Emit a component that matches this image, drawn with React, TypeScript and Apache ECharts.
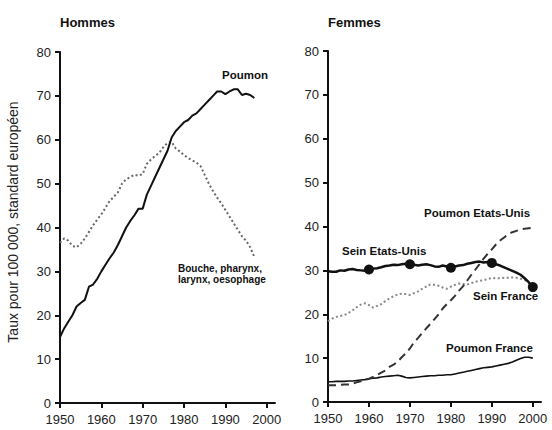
import { useEffect, useRef } from "react";
import * as echarts from "echarts";

const menYears = [
  1950, 1951, 1952, 1953, 1954, 1955, 1956, 1957, 1958, 1959,
  1960, 1961, 1962, 1963, 1964, 1965, 1966, 1967, 1968, 1969,
  1970, 1971, 1972, 1973, 1974, 1975, 1976, 1977, 1978, 1979,
  1980, 1981, 1982, 1983, 1984, 1985, 1986, 1987, 1988, 1989,
  1990, 1991, 1992, 1993, 1994, 1995, 1996, 1997,
];
const menLung = [
  15, 17, 18.5, 20, 22, 22.8, 23.5, 26.5, 27, 28.3,
  30, 31.5, 33, 34.3, 36, 38, 40, 41.5, 42.8, 44.3,
  44.3, 47.5, 49.5, 51.5, 53.5, 55.5, 57.5, 60.5, 62, 63,
  64, 64.5, 65.5, 66, 67, 68, 69, 70, 71, 71,
  70.4, 71, 71.5, 71.5, 70.2, 70.5, 70.2, 69.5,
];
const menMouth = [
  36.5, 37.5, 37, 35.8, 35.5, 36.3, 37.5, 39, 40.5, 41.8,
  43, 44.5, 46, 47, 48, 50, 51, 51.5, 52, 51.8,
  52.2, 54.5, 55.5, 56.3, 57, 58.3, 59.3, 59.5, 58, 57.3,
  56.5, 55.8, 55.3, 54.8, 54, 52, 50, 48.3, 46.8, 45.5,
  44, 42.5, 41, 39.5, 38, 37, 35.5, 33.3,
];

const womenYears = [
  1950, 1951, 1952, 1953, 1954, 1955, 1956, 1957, 1958, 1959,
  1960, 1961, 1962, 1963, 1964, 1965, 1966, 1967, 1968, 1969,
  1970, 1971, 1972, 1973, 1974, 1975, 1976, 1977, 1978, 1979,
  1980, 1981, 1982, 1983, 1984, 1985, 1986, 1987, 1988, 1989,
  1990, 1991, 1992, 1993, 1994, 1995, 1996, 1997, 1998, 1999, 2000,
];
const breastUS = [
  29.8, 29.7, 29.7, 30.0, 29.9, 30.2, 30.3, 30.1, 30.0, 29.9,
  30.2, 30.4, 30.5, 30.7, 31.0, 31.1, 31.3, 31.2, 31.4, 31.5,
  31.4, 31.3, 31.1, 31.3, 31.4, 31.2, 30.9, 30.8, 31.1, 30.9,
  30.6, 30.9, 31.1, 31.2, 31.5, 31.7, 31.9, 32.0, 31.8, 31.9,
  31.7, 31.4, 31.1, 30.7, 30.3, 29.9, 29.5, 29.0, 28.2, 27.3, 26.2,
];
const breastFR = [
  18.4, 19.0, 19.4, 19.6, 19.8, 20.3, 20.9, 21.6, 22.2, 22.5,
  22.1, 21.5, 21.9, 22.3, 23.0, 23.6, 24.1, 24.5, 24.7, 24.6,
  24.4, 24.8, 25.2, 25.8, 26.3, 26.8, 26.7, 26.5, 26.1, 25.8,
  26.3, 26.7, 27.0, 26.9, 26.8, 27.1, 27.4, 27.6, 27.8, 28.0,
  28.3, 28.2, 28.2, 28.3, 28.3, 28.4, 28.3, 28.1, 27.8, 27.2, 26.5,
];
const lungUS = [
  3.8, 3.8, 3.8, 3.9, 4.0, 4.0, 4.2, 4.5, 4.7, 5.0,
  5.3, 5.7, 6.2, 6.7, 7.2, 8.0, 8.5, 9.2, 10.2, 11.1,
  12.2, 13.6, 14.6, 15.7, 16.8, 17.8, 18.9, 20.0, 21.3, 22.3,
  23.2, 24.2, 25.4, 26.4, 27.7, 29.0, 30.2, 31.4, 32.7, 33.8,
  34.8, 35.9, 36.8, 37.5, 38.2, 38.7, 39.0, 39.3, 39.5, 39.6, 39.7,
];
const lungFR = [
  4.6, 4.6, 4.7, 4.7, 4.7, 4.8, 4.8, 4.9, 5.0, 5.1,
  5.3, 5.4, 5.5, 5.7, 5.8, 5.9, 6.0, 6.1, 5.9, 5.6,
  5.5, 5.6, 5.7, 5.8, 5.9, 6.0, 6.0, 6.1, 6.1, 6.2,
  6.2, 6.4, 6.6, 6.8, 7.0, 7.2, 7.4, 7.6, 7.8, 7.9,
  8.0, 8.2, 8.4, 8.6, 8.8, 9.1, 9.5, 9.9, 10.2, 10.2, 10.0,
];
const markerYears = [1960, 1970, 1980, 1990, 2000];

const xTickLabels = [1950, 1960, 1970, 1980, 1990, 2000];
const yTickLabels = [0, 10, 20, 30, 40, 50, 60, 70, 80];

const FONT = "'Liberation Sans', Arial, Helvetica, sans-serif";

const pairs = (xs: number[], ys: number[]) => xs.map((x, i) => [x, ys[i]]);

export default function App() {
  const ref = useRef<HTMLDivElement>(null);
  useEffect(() => {
    if (!ref.current) return;
    const chart = echarts.init(ref.current, null, { renderer: "svg" });

    const xAxisCommon = (gridIndex: number) => ({
      gridIndex,
      type: "value" as const,
      min: 1950,
      max: 2002,
      interval: 10,
      axisLine: { show: true, lineStyle: { color: "#111", width: 2 } },
      axisTick: {
        show: true,
        inside: false,
        length: 5,
        lineStyle: { color: "#111", width: 2 },
        customValues: xTickLabels,
      },
      axisLabel: {
        fontSize: 13,
        color: "#222",
        fontFamily: FONT,
        margin: 10,
        customValues: xTickLabels,
        formatter: (v: number) => String(v),
      },
      splitLine: { show: false },
    });
    const yAxisCommon = (gridIndex: number) => ({
      gridIndex,
      type: "value" as const,
      min: 0,
      max: 80,
      interval: 10,
      axisLine: { show: true, lineStyle: { color: "#111", width: 2 } },
      axisTick: {
        show: true,
        inside: false,
        length: 5,
        lineStyle: { color: "#111", width: 2 },
        customValues: yTickLabels,
      },
      axisLabel: {
        fontSize: 13,
        color: "#222",
        fontFamily: FONT,
        margin: 9,
        customValues: yTickLabels,
        formatter: (v: number) => String(v),
      },
      splitLine: { show: false },
    });

    const labelStyle = (text: string, x: number, y: number, size = 11.5) => ({
      type: "text" as const,
      x,
      y,
      style: {
        text,
        fontSize: size,
        fontWeight: "bold" as const,
        fontFamily: FONT,
        fill: "#111",
        align: "left" as const,
        verticalAlign: "middle" as const,
      },
    });

    chart.setOption({
      animation: false,
      backgroundColor: "#ffffff",
      grid: [
        { left: 60, top: 52, width: 215, height: 351 },
        { left: 328, top: 51, width: 213, height: 351 },
      ],
      xAxis: [xAxisCommon(0), xAxisCommon(1)],
      yAxis: [yAxisCommon(0), yAxisCommon(1)],
      series: [
        {
          type: "line",
          xAxisIndex: 0,
          yAxisIndex: 0,
          data: pairs(menYears, menMouth),
          symbol: "none",
          lineStyle: { color: "#666", width: 2, type: [2, 2.5] },
        },
        {
          type: "line",
          xAxisIndex: 0,
          yAxisIndex: 0,
          data: pairs(menYears, menLung),
          symbol: "none",
          lineStyle: { color: "#111", width: 2 },
        },
        {
          type: "line",
          xAxisIndex: 1,
          yAxisIndex: 1,
          data: pairs(womenYears, breastFR),
          symbol: "none",
          lineStyle: { color: "#888", width: 2, type: [2, 2.5] },
        },
        {
          type: "line",
          xAxisIndex: 1,
          yAxisIndex: 1,
          data: pairs(womenYears, lungFR),
          symbol: "none",
          lineStyle: { color: "#111", width: 1.6 },
        },
        {
          type: "line",
          xAxisIndex: 1,
          yAxisIndex: 1,
          data: pairs(womenYears, lungUS),
          symbol: "none",
          lineStyle: { color: "#333", width: 2, type: [8, 5] },
        },
        {
          type: "line",
          xAxisIndex: 1,
          yAxisIndex: 1,
          data: pairs(womenYears, breastUS),
          symbol: "circle",
          showAllSymbol: true,
          symbolSize: (v: number[]) => (markerYears.includes(v[0]) ? 10 : 0),
          itemStyle: { color: "#111" },
          lineStyle: { color: "#111", width: 2.5 },
        },
      ],
      graphic: [
        labelStyle("Hommes", 60, 22, 13),
        labelStyle("Femmes", 328, 22, 13),
        {
          type: "text",
          x: 13,
          y: 222,
          rotation: Math.PI / 2,
          style: {
            text: "Taux pour 100 000, standard européen",
            fontSize: 14,
            fontFamily: FONT,
            fill: "#222",
            align: "center",
            verticalAlign: "middle",
          },
        },
        labelStyle("Poumon", 222, 75),
        labelStyle("Bouche, pharynx,", 178, 268, 10),
        labelStyle("larynx, oesophage", 178, 279.5, 10),
        labelStyle("Poumon Etats-Unis", 424, 213),
        labelStyle("Sein Etats-Unis", 342, 251),
        labelStyle("Sein France", 473, 296),
        labelStyle("Poumon France", 446, 348),
      ],
    });
    return () => chart.dispose();
  }, []);
  return (
    <div
      ref={ref}
      style={{ position: "fixed", left: 0, top: 0, width: 552, height: 430, background: "#fff" }}
    />
  );
}
